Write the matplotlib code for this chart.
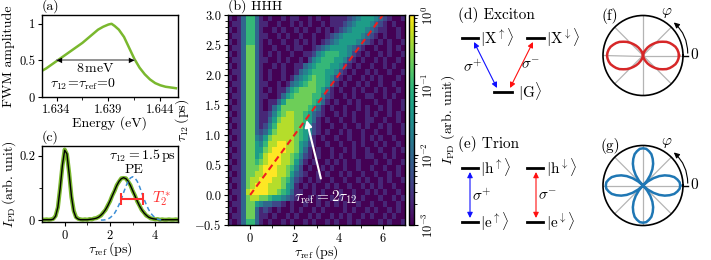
import numpy as np
import matplotlib
matplotlib.use("Agg")
import matplotlib.pyplot as plt
from matplotlib.colors import LogNorm

plt.rcParams.update({
    "font.family": "serif",
    "font.serif": ["cmr10"],
    "mathtext.fontset": "cm",
    "axes.formatter.use_mathtext": True,
    "font.size": 10,
    "xtick.labelsize": 9,
    "ytick.labelsize": 9,
    "axes.linewidth": 1.0,
    "xtick.major.size": 3.0,
    "ytick.major.size": 3.0,
    "xtick.minor.size": 2.0,
    "ytick.minor.size": 2.0,
    "xtick.major.pad": 2.0,
    "ytick.major.pad": 2.0,
})

# ---- (a) FWM spectrum ----
energy = [1.6325, 1.6330, 1.6335, 1.6340, 1.6345, 1.6350, 1.6355, 1.6360, 1.6365,
          1.6370, 1.6375, 1.6380, 1.6385, 1.6390, 1.6393, 1.6396, 1.6400, 1.6405,
          1.6410, 1.6415, 1.6420, 1.6425, 1.6430, 1.6435, 1.6440, 1.6445, 1.6450, 1.6455]
fwm_amp = [0.35, 0.39, 0.44, 0.49, 0.54, 0.59, 0.64, 0.69, 0.74,
           0.80, 0.86, 0.92, 0.96, 0.99, 1.00, 0.97, 0.92, 0.82,
           0.67, 0.52, 0.40, 0.31, 0.24, 0.19, 0.16, 0.14, 0.13, 0.12]
fwhm_edges = [1.6340, 1.6415]

# ---- (c) photodiode trace at tau12 = 1.5 ps ----
tau_ref_c = np.round(np.arange(-1.0, 5.01, 0.1), 1)
ipd_fit = [0.002, 0.002, 0.002, 0.002, 0.002, 0.004, 0.013, 0.041, 0.099, 0.170,
           0.217, 0.206, 0.143, 0.074, 0.028, 0.009, 0.004, 0.002, 0.002, 0.002,
           0.002, 0.003, 0.004, 0.005, 0.007, 0.010, 0.016, 0.023, 0.033, 0.045,
           0.060, 0.076, 0.092, 0.108, 0.121, 0.129, 0.132, 0.129, 0.121, 0.108,
           0.092, 0.076, 0.060, 0.045, 0.033, 0.023, 0.016, 0.010, 0.007, 0.005,
           0.004, 0.003, 0.002, 0.002, 0.002, 0.002, 0.002, 0.002, 0.002, 0.002, 0.002]
ipd_meas = [0.003, 0.002, 0.003, 0.002, 0.003, 0.005, 0.014, 0.040, 0.101, 0.168,
            0.219, 0.204, 0.145, 0.072, 0.030, 0.010, 0.005, 0.003, 0.002, 0.003,
            0.002, 0.004, 0.003, 0.006, 0.007, 0.011, 0.015, 0.024, 0.032, 0.046,
            0.059, 0.077, 0.091, 0.109, 0.120, 0.130, 0.131, 0.130, 0.120, 0.109,
            0.091, 0.077, 0.059, 0.046, 0.032, 0.024, 0.015, 0.011, 0.006, 0.005,
            0.003, 0.004, 0.002, 0.003, 0.002, 0.002, 0.003, 0.002, 0.002, 0.003, 0.002]
tau_ref_pe = np.round(np.arange(1.6, 4.41, 0.1), 1)
ipd_pe_model = [0.001, 0.001, 0.002, 0.004, 0.008, 0.014, 0.022, 0.034, 0.049, 0.066,
                0.086, 0.105, 0.121, 0.131, 0.135, 0.131, 0.121, 0.105, 0.086, 0.066,
                0.049, 0.034, 0.022, 0.014, 0.008, 0.004, 0.002, 0.001, 0.001]
t2_range = [2.50, 3.45]
t2_level = 0.067

# ---- (b) 2D map, digits 0..9 = log10(I_PD) from -3 to 0 ----
tau_ref_lim = [-1.0, 7.0]
tau12_lim = [-0.5, 3.0]
map_rows = [
    "10136631 01001011 00101001 11123455 54321001",
    "01136631 10010010 10100101 11234555 43210100",
    "10136631 00101001 01001010 12345554 32110010",
    "01136631 10010100 10010012 34555543 21010010",
    "10136631 01001001 01010123 45555432 10101001",
    "01137731 00100101 10012345 55543210 01001010",
    "10137731 01010010 01124566 65542101 00101001",
    "01137731 10010100 10245666 55421010 01010010",
    "10137731 00101001 13456665 54210100 10010100",
    "01137731 01001001 34566655 42101001 01001001",
    "10137731 01001013 45676654 21010010 10100010",
    "01137731 10010134 56776653 10100101 00100100",
    "10137731 01011356 77776531 01001010 01010010",
    "01137731 10013567 77766421 00101001 10010100",
    "10137731 01135777 77765310 10010100 01001001",
    "01137731 01357777 77653101 00100101 00101001",
    "10137731 12467887 76532100 10101001 01001010",
    "01137731 13578887 76531010 01001001 10010010",
    "10137731 24688887 75421001 00100101 00101001",
    "01137732 35788887 65421010 01010010 01001001",
    "10137743 57888887 65310100 10010010 10100100",
    "01137754 68899887 54210010 01001010 01010010",
    "10137755 78999887 53101001 00101001 00100101",
    "01137756 89998876 42101001 01001001 10010100",
    "10137767 89998875 31010010 10100100 01001001",
    "01137778 99988764 20100101 00100100 10010010",
    "10137788 99988753 21001010 01010010 01001010",
    "01137889 99887642 10101001 00100101 00101001",
    "10137899 98887541 01010010 10010010 10100100",
    "01138999 98876531 10010100 01001001 01010010",
    "10137887 76554321 00101001 01001010 00100101",
    "01137754 33221010 01001010 10100100 10010010",
    "10137731 21010010 10010100 00101001 01001010",
    "01137731 10100101 00101001 01010010 10010100",
    "10136631 01001010 01010010 10010100 00101001",
]
echo_tau12 = [0.0, 3.0]

# ---- (f), (g) polar patterns, r at phi = 0..90 deg in 5 deg steps ----
r_exciton_q = [0.90, 0.89, 0.87, 0.84, 0.79, 0.74, 0.68, 0.60, 0.53, 0.45,
               0.37, 0.30, 0.23, 0.16, 0.11, 0.06, 0.03, 0.01, 0.00]
r_trion_q = [0.93, 0.92, 0.87, 0.81, 0.71, 0.60, 0.47, 0.32, 0.16, 0.00,
             0.16, 0.32, 0.47, 0.60, 0.71, 0.81, 0.87, 0.92, 0.93]

green = "#7ab82e"
W, H = 711, 260


def px_rect(left, top, right, bottom):
    return [left / W, 1 - bottom / H, (right - left) / W, (bottom - top) / H]


fig = plt.figure(figsize=(W / 100, H / 100), dpi=100)

# (a)
ax_a = fig.add_axes(px_rect(42, 15, 178, 97))
ax_a.plot(energy, fwm_amp, color=green, lw=1.8)
ax_a.set_xlim(1.6326, 1.6457)
ax_a.set_ylim(0, 1.12)
ax_a.set_xticks([1.634, 1.639, 1.644])
ax_a.set_xticklabels(["1.634", "1.639", "1.644"])
ax_a.set_xticks([1.6365, 1.6415], minor=True)
ax_a.set_yticks([0, 0.5, 1])
ax_a.set_yticklabels(["0", "0.5", "1"])
ax_a.set_xlabel("Energy (eV)", labelpad=0)
ax_a.set_ylabel("FWM amplitude", labelpad=3)
ax_a.plot(fwhm_edges, [0.5, 0.5], color="gray", lw=1.2)
ax_a.annotate("", xy=(fwhm_edges[0], 0.5), xytext=(fwhm_edges[0] + 0.0008, 0.5),
              arrowprops=dict(arrowstyle="-|>", color="k", lw=0.01, mutation_scale=10, shrinkA=0, shrinkB=0))
ax_a.annotate("", xy=(fwhm_edges[1], 0.5), xytext=(fwhm_edges[1] - 0.0008, 0.5),
              arrowprops=dict(arrowstyle="-|>", color="k", lw=0.01, mutation_scale=10, shrinkA=0, shrinkB=0))
ax_a.text(np.mean(fwhm_edges), 0.39, r"8$\,$meV", ha="center", va="center")
ax_a.text(0.06, 0.15, r"$\tau_{12}\!=\!\tau_{\rm ref}\!=\!0$", transform=ax_a.transAxes,
          ha="left", va="center")
ax_a.text(0.0, 1.03, "(a)", transform=ax_a.transAxes, ha="left", va="bottom")

# (c)
ax_c = fig.add_axes(px_rect(42, 146, 178, 222))
ax_c.plot(tau_ref_c, ipd_meas, color=green, lw=3.0)
ax_c.plot(tau_ref_c, ipd_fit, color="k", lw=1.0)
ax_c.plot(tau_ref_pe, ipd_pe_model, color="#3d8fd6", lw=1.1, ls=(0, (3, 2)))
ax_c.errorbar([np.mean(t2_range)], [t2_level], xerr=[(t2_range[1] - t2_range[0]) / 2],
              color="#ff3030", lw=1.5, capsize=4, capthick=1.5)
ax_c.text(3.85, t2_level, r"$T_2^*$", color="#ff3030", ha="left", va="center", fontsize=11)
ax_c.text(3.05, 0.155, "PE", ha="center", va="center")
ax_c.text(4.9, 0.2, r"$\tau_{12}=1.5\,$ps", ha="right", va="center")
ax_c.set_xlim(-1, 5)
ax_c.set_ylim(-0.005, 0.23)
ax_c.set_xticks([0, 2, 4])
ax_c.set_xticks([1, 3], minor=True)
ax_c.set_yticks([0, 0.2])
ax_c.set_yticklabels(["0", "0.2"])
ax_c.set_yticks([0.1], minor=True)
ax_c.set_xlabel(r"$\tau_{\rm ref}\,$(ps)", labelpad=-1)
ax_c.set_ylabel(r"$I_{\rm PD}\,$(arb. unit)", labelpad=0.5)
ax_c.text(0.0, 1.03, "(c)", transform=ax_c.transAxes, ha="left", va="bottom")

# (b)
levels = []
for row in map_rows:
    digits = row.replace(" ", "")
    if len(digits) != 40:
        raise ValueError("bad row " + row)
    levels.append([int(ch) for ch in digits])
levels = np.array(levels, dtype=float)
ipd_map = 10 ** (-3 + 3 * levels / 9)

ax_b = fig.add_axes(px_rect(228, 15, 405, 225))
im = ax_b.imshow(ipd_map, extent=tau_ref_lim + tau12_lim, origin="upper", aspect="auto",
                 interpolation="nearest", cmap="viridis", norm=LogNorm(1e-3, 1))
ax_b.plot(2 * np.array(echo_tau12), echo_tau12, color="#f01e1e", lw=1.5, ls=(0, (3, 2)))
ax_b.annotate(r"$\tau_{\rm ref}=2\tau_{12}$", xy=(2.55, 1.25), xytext=(3.4, -0.03),
              color="white", ha="center", va="center", fontsize=11,
              arrowprops=dict(arrowstyle="-|>", color="white", lw=1.5, shrinkA=5, shrinkB=0,
                              mutation_scale=10))
ax_b.set_xlim(tau_ref_lim)
ax_b.set_ylim(tau12_lim)
ax_b.set_xticks([0, 2, 4, 6])
ax_b.set_xticks([1, 3, 5], minor=True)
ax_b.set_yticks(np.arange(-0.5, 3.01, 0.5))
ax_b.set_yticks(np.arange(-0.5, 3.01, 0.1), minor=True)
ax_b.set_yticklabels(["$-0.5$", "0.0", "0.5", "1.0", "1.5", "2.0", "2.5", "3.0"])
ax_b.set_xlabel(r"$\tau_{\rm ref}\,$(ps)", labelpad=-1)
ax_b.set_ylabel(r"$\tau_{12}\,$(ps)", labelpad=2)
ax_b.text(0.0, 1.01, "(b) HHH", transform=ax_b.transAxes, ha="left", va="bottom")

cax = fig.add_axes(px_rect(409, 15, 414, 225))
cb = fig.colorbar(im, cax=cax)
cb.set_ticks([1e-3, 1e-2, 1e-1, 1])
cb.minorticks_on()
cax.tick_params(axis="y", labelrotation=90, labelsize=9)
for lab in cax.get_yticklabels():
    lab.set_verticalalignment("center")
cb.set_label(r"$I_{\rm PD}$ (arb. unit)", labelpad=2)

# (d), (e) level schemes, drawn in figure pixels
lv = fig.add_axes([0, 0, 1, 1])
lv.set_xlim(0, W)
lv.set_ylim(H, 0)
lv.axis("off")
lv.patch.set_alpha(0)
fs_lv = 11


def level(x0, x1, y):
    lv.plot([x0, x1], [y, y], color="k", lw=2)


def dbl_arrow(p0, p1, color):
    lv.annotate("", xy=p1, xytext=p0,
                arrowprops=dict(arrowstyle="<|-|>", color=color, lw=0.8, shrinkA=0, shrinkB=0,
                                mutation_scale=8))


lv.text(458, 15, "(d) Exciton", ha="left", va="center", fontsize=fs_lv)
level(462, 478, 38)
level(527, 544, 38)
level(494, 512, 92)
lv.text(480, 38, r"$|\mathrm{X}^{\uparrow}\rangle$", ha="left", va="center", fontsize=fs_lv)
lv.text(546, 38, r"$|\mathrm{X}^{\downarrow}\rangle$", ha="left", va="center", fontsize=fs_lv)
lv.text(518, 92, r"$|\mathrm{G}\rangle$", ha="left", va="center", fontsize=fs_lv)
dbl_arrow((474, 42), (497, 88), "#1010ff")
dbl_arrow((533, 42), (510, 88), "#ff1010")
lv.text(473, 67, r"$\sigma^{+}$", ha="center", va="center", fontsize=fs_lv)
lv.text(531, 65, r"$\sigma^{-}$", ha="center", va="center", fontsize=fs_lv)

lv.text(458, 144, "(e) Trion", ha="left", va="center", fontsize=fs_lv)
for x0 in (462, 527):
    level(x0, x0 + 16, 168)
    level(x0, x0 + 16, 222)
lv.text(480, 168, r"$|\mathrm{h}^{\uparrow}\rangle$", ha="left", va="center", fontsize=fs_lv)
lv.text(480, 222, r"$|\mathrm{e}^{\uparrow}\rangle$", ha="left", va="center", fontsize=fs_lv)
lv.text(546, 168, r"$|\mathrm{h}^{\downarrow}\rangle$", ha="left", va="center", fontsize=fs_lv)
lv.text(546, 222, r"$|\mathrm{e}^{\downarrow}\rangle$", ha="left", va="center", fontsize=fs_lv)
dbl_arrow((470, 172), (470, 218), "#1010ff")
dbl_arrow((536, 172), (536, 218), "#ff1010")
lv.text(482, 196, r"$\sigma^{+}$", ha="center", va="center", fontsize=fs_lv)
lv.text(548, 196, r"$\sigma^{-}$", ha="center", va="center", fontsize=fs_lv)

# (f), (g) polar diagrams
phi = np.deg2rad(np.arange(0, 361, 5))


def full_turn(q):
    half = list(q) + list(q[-2::-1])
    return np.array(half + half[1:])


def polar_panel(rect, r, color, tag):
    ax = fig.add_axes(rect, projection="polar")
    ax.plot(phi, r, color=color, lw=1.8)
    ax.set_ylim(0, 1)
    ax.set_yticks([])
    ax.set_xticks(np.deg2rad(np.arange(0, 360, 45)))
    ax.set_xticklabels([])
    ax.grid(True, color="#b4b4b4", lw=0.9)
    ax.spines["polar"].set_linewidth(1.2)
    ax.plot([0, 0], [1, 1.12], color="k", lw=1.0, clip_on=False)
    ax.annotate("", xy=(np.deg2rad(47), 1.13), xytext=(np.deg2rad(3), 1.12),
                arrowprops=dict(arrowstyle="-|>", color="k", lw=0.8, mutation_scale=8,
                                connectionstyle="arc3,rad=0.22", shrinkA=0, shrinkB=0),
                annotation_clip=False)
    ax.text(1.14, 0.5, "0", transform=ax.transAxes, ha="center", va="center", fontsize=11)
    ax.text(0.8, 1.03, r"$\varphi$", transform=ax.transAxes, ha="center", va="center", fontsize=11)
    ax.text(0.09, 1.0, tag, transform=ax.transAxes, ha="center", va="center", fontsize=11)
    return ax


polar_panel(px_rect(603, 15.5, 683, 95.5), full_turn(r_exciton_q), "#d62728", "(f)")
polar_panel(px_rect(603, 145.5, 683, 225.5), full_turn(r_trion_q), "#1f77b4", "(g)")

fig.savefig("out.png", dpi=100)
